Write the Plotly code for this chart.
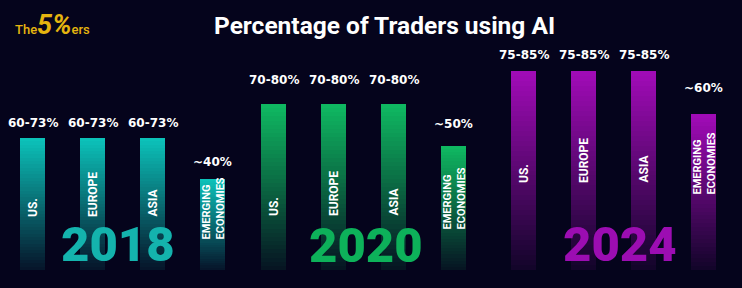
import plotly.graph_objects as go

# ---------------- data ----------------
categories = ["US.", "EUROPE", "ASIA", "EMERGING<br>ECONOMIES"]
years = ["2018", "2020", "2024"]

# bar heights as drawn (percent scale)
heights_2018 = [56.4, 56.4, 56.4, 38.9]
heights_2020 = [70.9, 70.9, 70.9, 53.0]
heights_2024 = [85.0, 85.0, 85.0, 66.6]

labels_2018 = ["60-73%", "60-73%", "60-73%", "~40%"]
labels_2020 = ["70-80%", "70-80%", "70-80%", "~50%"]
labels_2024 = ["75-85%", "75-85%", "75-85%", "~60%"]

title_text = "Percentage of Traders using AI"

# ---------------- style ----------------
W, H = 742, 288
BG = (5, 4, 28)
group_colors = [(12, 196, 187), (15, 186, 98), (162, 11, 184)]
year_colors = ["#14b3ad", "#0db15a", "#9c0db2"]
domains_px = [(2.5, 242.5), (243.5, 483.5), (493.5, 733.5)]
label_shift = [[15, 15, 15, 17], [24, 24, 24, 22], [16, 16, 16, 26]]
inner_shift = [[51, 51, 51, 28], [52, 52, 52, 38], [85, 85, 85, 73]]
year_pos = [(117.5, 244.5), (365.5, 245), (619.5, 244.5)]
N = 40

heights = [heights_2018, heights_2020, heights_2024]
labels = [labels_2018, labels_2020, labels_2024]


def blend(c, f):
    return "rgb(%d,%d,%d)" % tuple(round(BG[i] + (c[i] - BG[i]) * f) for i in range(3))


fig = go.Figure()
annotations = []
for g, yr in enumerate(years):
    xa = "x" if g == 0 else "x%d" % (g + 1)
    for k in range(N):
        t = (k + 0.5) / N
        f = 0.08 + 0.92 * t
        fig.add_trace(go.Bar(
            x=categories, y=[h / N for h in heights[g]],
            xaxis=xa, yaxis="y",
            marker=dict(color=blend(group_colors[g], f), line=dict(width=0)),
            showlegend=False, hoverinfo="skip",
        ))
    for i, cat in enumerate(categories):
        annotations.append(dict(
            x=cat, y=heights[g][i], xref=xa, yref="y",
            text=labels[g][i], showarrow=False, yanchor="middle",
            yshift=label_shift[g][i],
            font=dict(family="DejaVu Sans", size=12, color="white", weight="bold"),
        ))
        two_line = "<br>" in cat
        annotations.append(dict(
            x=cat, y=0, xref=xa, yref="y",
            text=cat, showarrow=False, textangle=-90,
            yanchor="bottom", xanchor="center", yshift=inner_shift[g][i],
            font=dict(family="Roboto", size=11 if two_line else 12, color="white", weight="bold"),
            align="left",
        ))
    px, py = year_pos[g]
    annotations.append(dict(
        x=px / W, y=1 - py / H, xref="paper", yref="paper",
        text=yr, showarrow=False, xanchor="center", yanchor="middle",
        font=dict(family="Roboto", size=49, color=year_colors[g], weight=900),
    ))

annotations.append(dict(
    x=384 / W, y=1 - 25 / H, xref="paper", yref="paper",
    text="<b>" + title_text + "</b>", showarrow=False,
    xanchor="center", yanchor="middle",
    font=dict(family="Roboto", size=24.5, color="white"),
))
annotations.append(dict(
    x=13 / W, y=1 - 25 / H, xref="paper", yref="paper",
    text="The<b><i><span style='font-size:27px'>5%</span></i></b>ers",
    showarrow=False, xanchor="left", yanchor="middle",
    font=dict(family="Roboto", size=13, color="#e6b50f", weight=500),
))

px_per_unit = 199 / 85.0
layout = dict(
    width=W, height=H, margin=dict(l=0, r=0, t=0, b=0),
    paper_bgcolor="rgb(%d,%d,%d)" % BG, plot_bgcolor="rgb(%d,%d,%d)" % BG,
    barmode="stack", bargap=1 - 25 / 60.0,
    showlegend=False,
    yaxis=dict(range=[-18 / px_per_unit, 270 / px_per_unit], visible=False, fixedrange=True),
    annotations=annotations,
)
for g in range(3):
    key = "xaxis" if g == 0 else "xaxis%d" % (g + 1)
    layout[key] = dict(domain=[domains_px[g][0] / W, domains_px[g][1] / W],
                       visible=False, anchor="y", type="category")
fig.update_layout(**layout)
fig.write_html("out.html")
